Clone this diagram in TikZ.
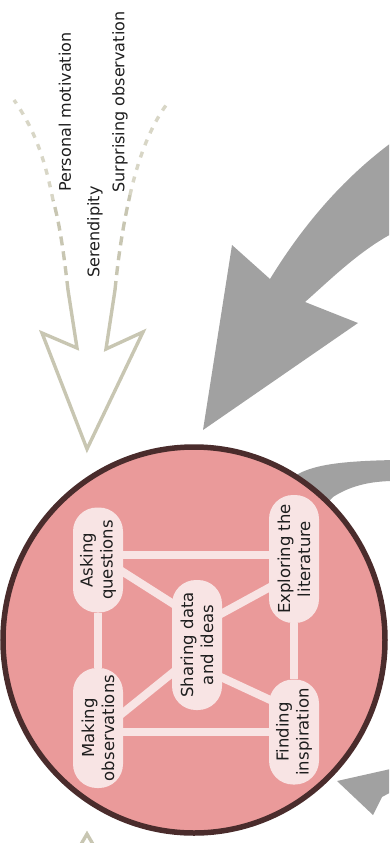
\documentclass[tikz,border=0pt]{standalone}
\usepackage{fontspec}
\setmainfont{DejaVu Sans}
\usetikzlibrary{calc,backgrounds}
\definecolor{beige}{RGB}{200,198,178}
\definecolor{beigelight}{RGB}{216,214,198}
\definecolor{arrowgray}{RGB}{161,161,161}
\definecolor{ringfill}{RGB}{234,154,154}
\definecolor{ringdraw}{RGB}{74,44,44}
\definecolor{pillfill}{RGB}{248,228,228}
\definecolor{txt}{RGB}{30,30,30}
\pgfdeclarelayer{edges}
\pgfsetlayers{background,edges,main}
\begin{document}
\begin{tikzpicture}[x=1pt,y=-1pt,
  pill/.style={rotate=90, fill=pillfill, rounded corners=24pt, minimum height=50pt,
    inner sep=0pt, align=center, font=\fontsize{16.5}{20}\selectfont, text=txt},
  linkline/.style={draw=pillfill, line width=8pt},
  toplabel/.style={rotate=90, font=\fontsize{16}{19}\selectfont, text=txt, inner sep=0pt},
  beigeline/.style={draw=beige, line width=3.4pt, line join=miter},
  beigedash/.style={line width=3.4pt, dash pattern=on 9pt off 6pt},
  grayshape/.style={fill=arrowgray, draw=none}]
\useasboundingbox (0,0) rectangle (389,843);
\clip (0,0) rectangle (389,843);

% gray band behind the circle, circle
\begin{pgfonlayer}{background}
  \fill[arrowgray] (290,480) -- (298,474) .. controls (315,465) and (340,461) .. (395,460)
    -- (395,481) .. controls (370,481) and (350,486) .. (333,497) -- (310,520) -- cycle;
  \draw[ringdraw, fill=ringfill, line width=5.5pt] (194,640) ellipse [x radius=191, y radius=193];
\end{pgfonlayer}

% big gray arrow
\fill[grayshape] (203,430) -- (232,245) -- (270,279)
  .. controls (300,230) and (340,180) .. (395,140)
  -- (395,232) .. controls (360,250) and (330,280) .. (305,302)
  -- (358,323) -- cycle;

% bottom right gray arrow
\fill[grayshape] (337,781) -- (395,768) -- (395,790) -- (382,797) -- (373,815) -- cycle;

% beige open arrow at top
\draw[beigeline] (68,290) -- (77,348) -- (42,333) -- (87,449) -- (143,332) -- (106,349) -- (115,290);
\draw[beigedash, draw=beige] (68,290) .. controls (64,255) and (60,225) .. (53,200);
\draw[beigedash, draw=beigelight, dash pattern=on 6pt off 7pt] (53,200) .. controls (45,160) and (35,130) .. (14,100);
\draw[beigedash, draw=beige] (115,290) .. controls (118,260) and (122,230) .. (130,195);
\draw[beigedash, draw=beigelight, dash pattern=on 6pt off 7pt] (130,195) .. controls (138,160) and (150,125) .. (170,100);
% beige arrow tip at bottom
\draw[beigeline] (80,846) -- (87,834) -- (94,846);

% top labels
\node[toplabel] (pm) at (65,112) {Personal motivation};
\node[toplabel] (ser) at (95,232) {Serendipity};
\node[toplabel] (so) at (120,102) {Surprising observation};

% pills
\node[pill, minimum width=105pt] (ask) at (98,560) {Asking\\questions};
\node[pill, minimum width=120pt] (make) at (98,728) {Making\\observations};
\node[pill, minimum width=130pt] (share) at (197,645) {Sharing data\\and ideas};
\node[pill, minimum width=128pt] (explore) at (294,559) {Exploring the\\literature};
\node[pill, minimum width=105pt] (find) at (294,732) {Finding\\inspiration};

\begin{pgfonlayer}{edges}
  \draw[linkline] ($(ask)+(0,-5)$) -- ($(explore)+(0,-4)$);
  \draw[linkline] ($(make)+(0,4)$) -- (find);
  \draw[linkline] (ask) -- (make);
  \draw[linkline] (explore) -- (find);
  \draw[linkline] ($(ask)+(0,-4)$) -- ($(share)+(0,-26)$);
  \draw[linkline] ($(explore)+(0,15)$) -- ($(share)+(0,-18)$);
  \draw[linkline] ($(make)+(0,5)$) -- ($(share)+(0,8)$);
  \draw[linkline] ($(find)+(0,-21)$) -- ($(share)+(0,21)$);
\end{pgfonlayer}
\end{tikzpicture}
\end{document}
